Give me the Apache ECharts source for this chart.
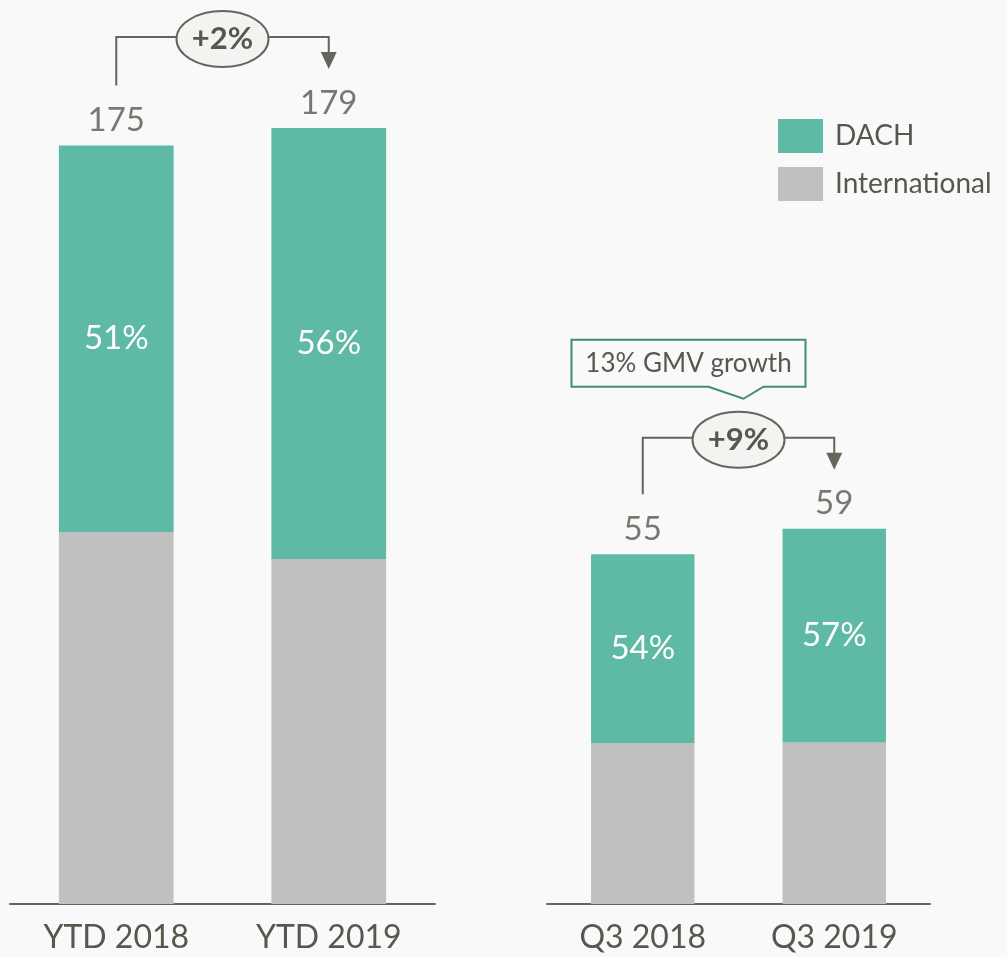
<!DOCTYPE html>
<html>
<head>
<meta charset="utf-8">
<script src="https://cdn.jsdelivr.net/npm/echarts@6/dist/echarts.min.js"></script>
<style>
  html, body { margin: 0; background: #f9f9f9; }
  #chart { width: 1007px; height: 957px; }
</style>
</head>
<body>
<div id="chart"></div>
<script>
const ytdCategories = ['YTD 2018', 'YTD 2019']
const q3Categories = ['Q3 2018', 'Q3 2019']
const ytdTotal = [175, 179]
const q3Total = [55, 59]
const ytdInternational = [85.8, 79.6]
const ytdDach = [89.2, 99.4]
const q3International = [25.3, 25.4]
const q3Dach = [29.7, 33.6]
const ytdDachShare = ['51%', '56%']
const q3DachShare = ['54%', '57%']
const ytdGrowth = '+2%'
const q3Growth = '+9%'
const calloutText = '13% GMV growth'

const FONT = 'Lato, "Open Sans", sans-serif'
const TEXT = '#58574e'
const GREEN = '#5fbaa5'
const GREY = '#c0c0c0'
const LINE = '#66655c'

const chart = echarts.init(document.getElementById('chart'))

const xAxisStyle = {
  type: 'category',
  axisTick: { show: false },
  axisLine: { lineStyle: { color: LINE, width: 2 } },
  axisLabel: { color: TEXT, fontSize: 32, fontFamily: FONT, margin: 18 }
}
const yAxisStyle = {
  type: 'value',
  min: 0,
  show: false,
  splitLine: { show: false }
}

function stackSeries (name, xi, data, color, labels) {
  return {
    name: name,
    type: 'bar',
    stack: 'g' + xi,
    xAxisIndex: xi,
    yAxisIndex: xi,
    barWidth: '54%',
    data: data,
    itemStyle: { color: color },
    label: labels ? {
      show: true,
      position: 'inside',
      color: '#fff',
      fontSize: 33,
      fontFamily: FONT,
      formatter: p => labels[p.dataIndex]
    } : { show: false },
    emphasis: { disabled: true }
  }
}

function totalSeries (xi, totals) {
  return {
    type: 'scatter',
    xAxisIndex: xi,
    yAxisIndex: xi,
    symbolSize: 1,
    itemStyle: { color: 'rgba(0,0,0,0)' },
    data: totals,
    label: {
      show: true,
      position: 'top',
      distance: 8,
      color: TEXT,
      fontSize: 33,
      fontFamily: FONT,
      formatter: p => totals[p.dataIndex]
    },
    silent: true
  }
}

chart.setOption({
  backgroundColor: '#f9f9f9',
  animation: false,
  grid: [
    { left: 10, width: 425, top: 37, bottom: 53 },
    { left: 547, width: 383, top: 268, bottom: 53 }
  ],
  xAxis: [
    Object.assign({ gridIndex: 0, data: ytdCategories }, xAxisStyle),
    Object.assign({ gridIndex: 1, data: q3Categories }, xAxisStyle)
  ],
  yAxis: [
    Object.assign({ gridIndex: 0, max: 200 }, yAxisStyle),
    Object.assign({ gridIndex: 1, max: 100 }, yAxisStyle)
  ],
  legend: {
    data: ['DACH', 'International'],
    orient: 'vertical',
    left: 773,
    top: 114,
    icon: 'rect',
    itemWidth: 45,
    itemHeight: 34,
    itemGap: 14,
    selectedMode: false,
    textStyle: { color: TEXT, fontSize: 28, fontFamily: FONT, padding: [0, 0, 0, 7] }
  },
  series: [
    stackSeries('International', 0, ytdInternational, GREY),
    stackSeries('DACH', 0, ytdDach, GREEN, ytdDachShare),
    stackSeries('International', 1, q3International, GREY),
    stackSeries('DACH', 1, q3Dach, GREEN, q3DachShare),
    totalSeries(0, ytdTotal),
    totalSeries(1, q3Total)
  ]
})

// growth brackets drawn from the bar positions
function bracket (gi, totals, label) {
  const a = chart.convertToPixel({ gridIndex: gi }, [0, totals[0]])
  const b = chart.convertToPixel({ gridIndex: gi }, [1, totals[1]])
  const y = Math.min(a[1], b[1]) - 91
  const mid = (a[0] + b[0]) / 2
  const tip = b[1] - 59
  const lineStyle = { stroke: LINE, lineWidth: 2, fill: null }
  return {
    mid: mid,
    y: y,
    items: [
      { type: 'polyline', shape: { points: [[a[0], a[1] - 60], [a[0], y], [mid - 45, y]] }, style: lineStyle },
      { type: 'polyline', shape: { points: [[mid + 45, y], [b[0], y], [b[0], tip - 16]] }, style: lineStyle },
      { type: 'polygon', shape: { points: [[b[0] - 8, tip - 17], [b[0] + 8, tip - 17], [b[0], tip]] }, style: { fill: LINE } },
      { type: 'ellipse', shape: { cx: mid, cy: y + 2, rx: 46, ry: 28 }, style: { fill: '#f3f3f1', stroke: LINE, lineWidth: 2 } },
      {
        type: 'text',
        x: mid,
        y: y + 2,
        style: { text: label, align: 'center', verticalAlign: 'middle', fill: TEXT, font: 'bold 31px ' + FONT }
      }
    ]
  }
}

const left = bracket(0, ytdTotal, ytdGrowth)
const right = bracket(1, q3Total, q3Growth)

// callout above the Q3 bracket
const cx = right.mid
const cy = right.y
const x0 = cx - 167
const x1 = cx + 67
const yTop = cy - 98
const yBot = cy - 51
const callout = [
  {
    type: 'polygon',
    shape: {
      points: [[x0, yTop], [x1, yTop], [x1, yBot], [cx + 25, yBot], [cx + 5, cy - 39], [cx - 30, yBot], [x0, yBot]]
    },
    style: { fill: '#f9f9f9', stroke: '#3e8c7b', lineWidth: 2 }
  },
  {
    type: 'text',
    x: (x0 + x1) / 2,
    y: (yTop + yBot) / 2,
    style: { text: calloutText, align: 'center', verticalAlign: 'middle', fill: TEXT, font: '26px ' + FONT }
  }
]

chart.setOption({
  graphic: { elements: left.items.concat(right.items, callout) }
})
</script>
</body>
</html>
